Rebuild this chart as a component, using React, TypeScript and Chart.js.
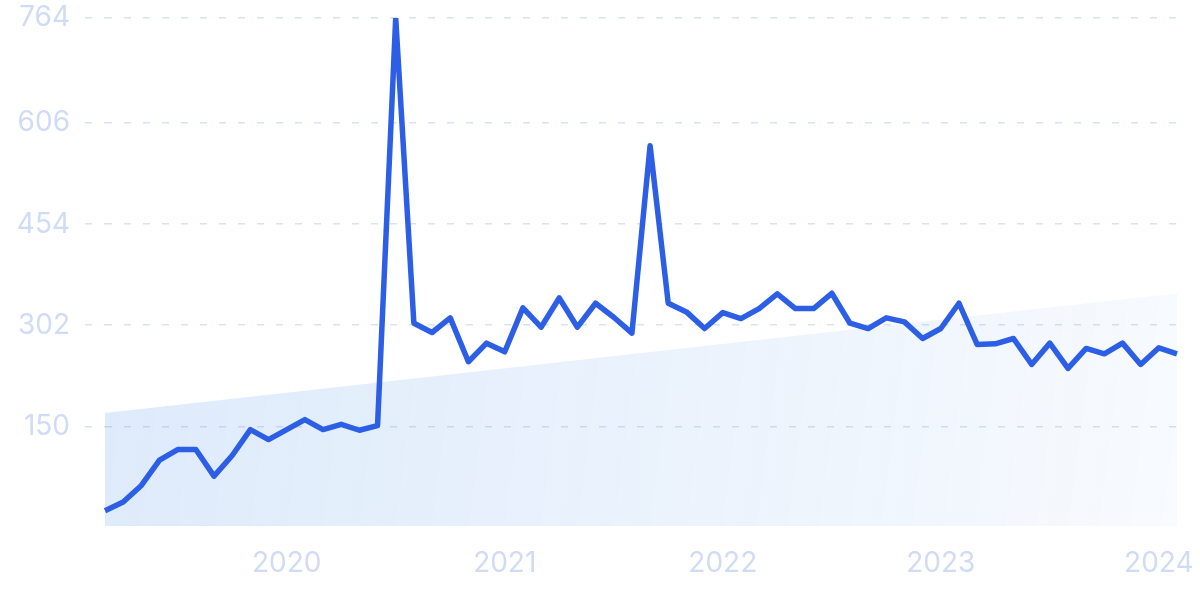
import { useEffect, useRef } from "react";
import { Chart, registerables } from "chart.js";

Chart.register(...registerables);

const months = [
  "2019-03", "2019-04", "2019-05", "2019-06", "2019-07", "2019-08", "2019-09", "2019-10", "2019-11", "2019-12",
  "2020-01", "2020-02", "2020-03", "2020-04", "2020-05", "2020-06", "2020-07", "2020-08", "2020-09", "2020-10", "2020-11", "2020-12",
  "2021-01", "2021-02", "2021-03", "2021-04", "2021-05", "2021-06", "2021-07", "2021-08", "2021-09", "2021-10", "2021-11", "2021-12",
  "2022-01", "2022-02", "2022-03", "2022-04", "2022-05", "2022-06", "2022-07", "2022-08", "2022-09", "2022-10", "2022-11", "2022-12",
  "2023-01", "2023-02", "2023-03", "2023-04", "2023-05", "2023-06", "2023-07", "2023-08", "2023-09", "2023-10", "2023-11", "2023-12",
  "2024-01", "2024-02",
];

const interest = [
  23, 36, 61, 99, 115, 115, 75, 106, 145, 130,
  145, 160, 145, 153, 144, 151, 764, 305, 291, 313, 247, 275,
  262, 328, 299, 343, 299, 335, 314, 290, 572, 335, 322, 297,
  321, 312, 327, 349, 327, 327, 350, 305, 297, 313, 307, 282,
  297, 335, 273, 274, 282, 243, 275, 237, 267, 259, 275, 243,
  268, 259,
];

const trendStart = 170;
const trendEnd = 350;

const yTicks = [150, 302, 454, 606, 764];
const yMax = 764;

const LABEL_COLOR = "#d0dbf5";
const GRID_COLOR = "#d9e2f8";
const LINE_COLOR = "#2c5fe6";

export default function App() {
  const canvasRef = useRef<HTMLCanvasElement | null>(null);

  useEffect(() => {
    document.body.style.margin = "0";
    const canvas = canvasRef.current;
    if (!canvas) return;

    const trend = months.map((_, i) =>
      i === 0 ? trendStart : i === months.length - 1 ? trendEnd : null
    );

    const chart = new Chart(canvas, {
      type: "line",
      data: {
        labels: months,
        datasets: [
          {
            label: "Interest",
            data: interest,
            borderColor: LINE_COLOR,
            borderWidth: 5.5,
            pointRadius: 0,
            tension: 0,
            fill: false,
            borderJoinStyle: "round",
            order: 0,
          },
          {
            label: "Trend",
            data: trend,
            spanGaps: true,
            borderWidth: 0,
            borderColor: "rgba(0,0,0,0)",
            pointRadius: 0,
            fill: "start",
            order: 1,
            backgroundColor: (ctx: any) => {
              const chart = ctx.chart;
              const area = chart.chartArea;
              if (!area) return "rgba(50,130,230,0.12)";
              const g = chart.ctx.createLinearGradient(area.left, area.bottom - 140, area.right, area.bottom);
              g.addColorStop(0, "rgba(50,130,230,0.16)");
              g.addColorStop(0.6, "rgba(50,130,230,0.09)");
              g.addColorStop(1, "rgba(50,130,230,0.035)");
              return g;
            },
          },
        ],
      },
      options: {
        animation: false,
        responsive: true,
        maintainAspectRatio: false,
        layout: { padding: { top: 18, right: 23, left: 0, bottom: 0 } },
        plugins: {
          legend: { display: false },
          tooltip: { enabled: false },
        },
        scales: {
          x: {
            grid: { display: false, drawTicks: false },
            border: { display: false },
            ticks: {
              autoSkip: false,
              maxRotation: 0,
              padding: 21,
              color: LABEL_COLOR,
              font: { family: "Inter", size: 28, weight: 400 },
              callback: (_v: any, i: number) => {
                const m = months[i];
                return m && m.endsWith("-01") ? m.slice(0, 4) : "";
              },
            },
            afterFit: (scale: any) => {
              scale.height = 73;
              scale.paddingLeft = 0;
              scale.paddingRight = 0;
            },
          },
          y: {
            min: 0,
            max: yMax,
            afterBuildTicks: (scale: any) => {
              scale.ticks = yTicks.map((v) => ({ value: v }));
            },
            afterFit: (scale: any) => {
              scale.width = 105;
              scale.paddingTop = 0;
              scale.paddingBottom = 0;
            },
            border: { display: false, dash: [7, 12] },
            grid: {
              color: GRID_COLOR,
              lineWidth: 1.5,
              drawTicks: true,
              tickLength: 20,
              tickColor: GRID_COLOR,
              tickBorderDash: [7, 12],
            },
            ticks: {
              padding: 15,
              color: LABEL_COLOR,
              font: { family: "Inter", size: 28, weight: 400 },
            },
          },
        },
      },
    });

    return () => chart.destroy();
  }, []);

  return (
    <div style={{ width: 1200, height: 599, position: "relative" }}>
      <canvas ref={canvasRef} />
    </div>
  );
}
